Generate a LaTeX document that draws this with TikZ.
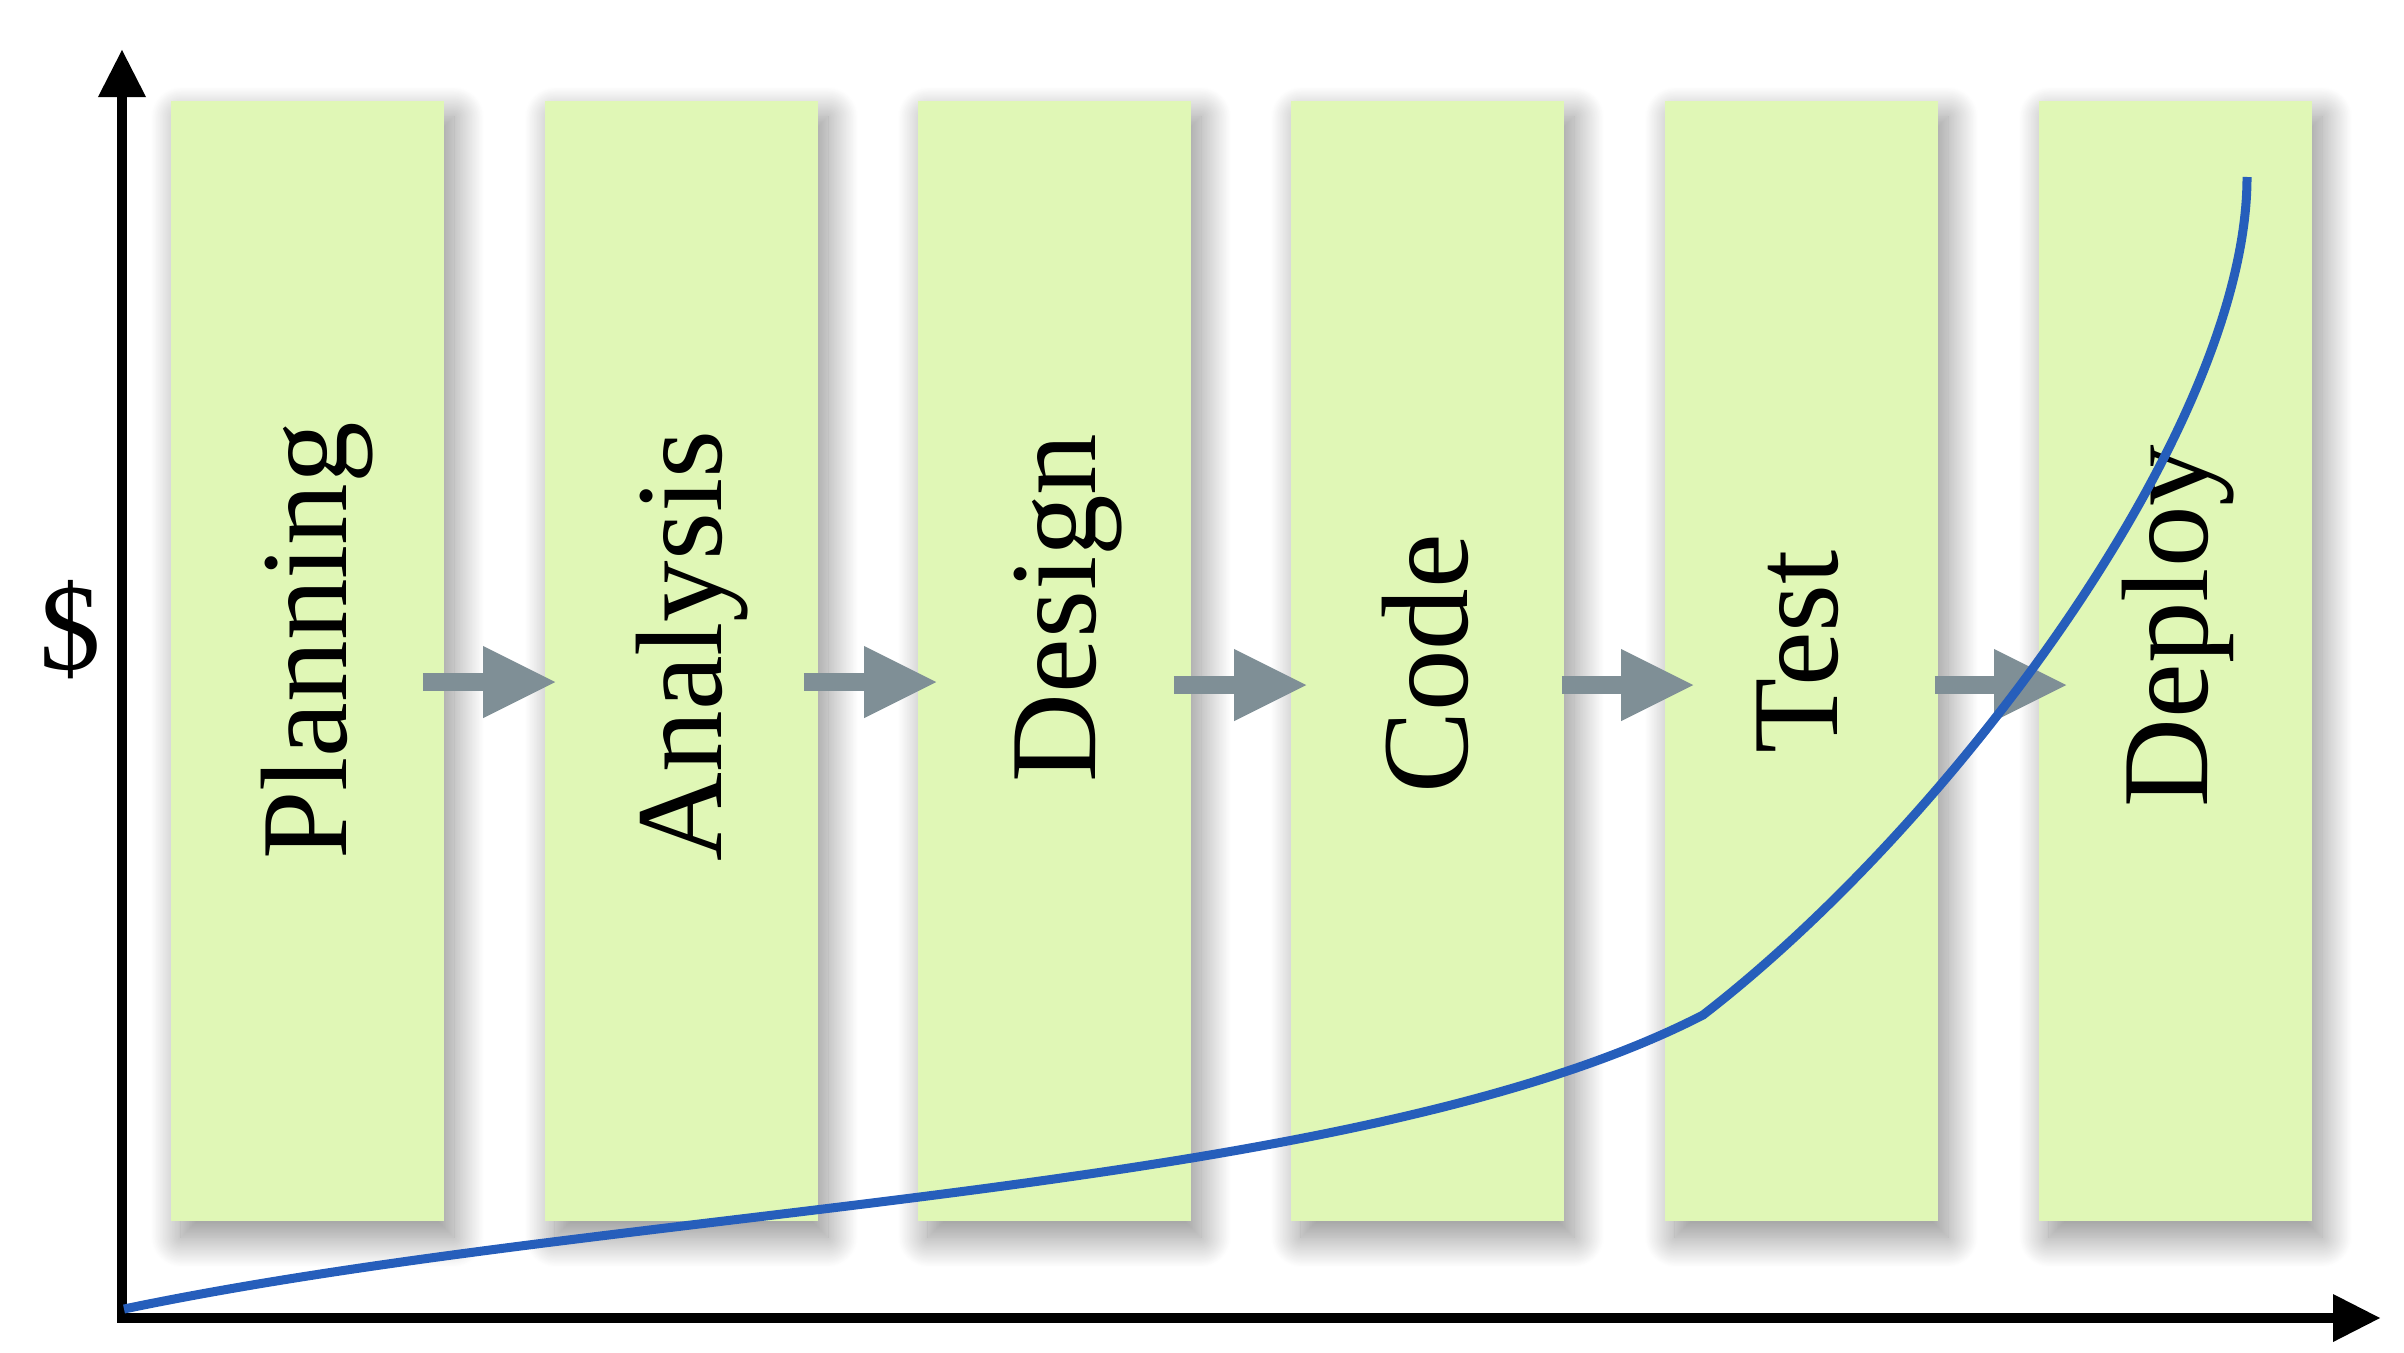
\documentclass[tikz,border=0pt]{standalone}
\usepackage{fontspec}
\setmainfont{Liberation Serif}
\usetikzlibrary{arrows.meta,shadows.blur}

\definecolor{stagegreen}{RGB}{224,247,182}
\definecolor{flowgray}{RGB}{127,143,150}
\definecolor{costblue}{RGB}{38,94,187}

\tikzset{
	stage/.style={fill=stagegreen, inner sep=0pt, minimum width=2.73cm, minimum height=11.2cm,
		blur shadow={shadow xshift=0.1cm, shadow yshift=-0.16cm, shadow blur radius=0.3cm, shadow blur steps=40, shadow opacity=45}},
	phase/.style={rotate=90, anchor=base, inner sep=0pt, font=\fontsize{35}{42}\selectfont},
	flow/.style={draw=flowgray, line width=0.18cm, -{Triangle[length=0.72cm, width=0.72cm, line width=0pt]}},
	axis/.style={line width=0.1cm, {Triangle[length=0.47cm, width=0.48cm, line width=0pt]}-{Triangle[length=0.47cm, width=0.48cm, line width=0pt]}},
	cost/.style={draw=costblue, line width=0.09cm}
}

\begin{document}
\begin{tikzpicture}[x=0.01cm, y=-0.01cm]
			%%%%% START %%%%%
			\useasboundingbox (0, 0) rectangle (2404, 1352);
			
			\node[stage] (planning) at (307.5, 661) {};
			\node[stage] (analysis) at (681.5, 661) {};
			\node[stage] (design) at (1054.5, 661) {};
			\node[stage] (coding) at (1427.5, 661) {};
			\node[stage] (testing) at (1801.5, 661) {};
			\node[stage] (deploy) at (2175.5, 661) {};
			
			\draw[flow] ([shift={(-0.22cm, -0.21cm)}]planning.east) -- ([shift={(0.11cm, -0.21cm)}]analysis.west);
			\draw[flow] ([shift={(-0.15cm, -0.21cm)}]analysis.east) -- ([shift={(0.19cm, -0.21cm)}]design.west);
			\draw[flow] ([shift={(-0.18cm, -0.24cm)}]design.east) -- ([shift={(0.16cm, -0.24cm)}]coding.west);
			\draw[flow] ([shift={(-0.03cm, -0.24cm)}]coding.east) -- ([shift={(0.29cm, -0.24cm)}]testing.west);
			\draw[flow] ([shift={(-0.04cm, -0.24cm)}]testing.east) -- ([shift={(0.28cm, -0.24cm)}]deploy.west);
			
			\node[phase] (planninglbl) at (346, 641) {Planning};
			\node[phase] (analysislbl) at (721, 646) {Analysis};
			\node[phase] (designlbl) at (1095, 608) {Design};
			\node[phase] (codinglbl) at (1467, 664) {Code};
			\node[phase] (testinglbl) at (1837, 652) {Test};
			\node[phase] (deploylbl) at (2207, 626) {Deploy};
			
			\node[font=\fontsize{35}{42}\selectfont, inner sep=0pt] (dollar) at (70, 630) {\$};
			
			\coordinate (origin) at (122, 1318);
			\coordinate (ytop) at (122, 50);
			\coordinate (xend) at (2380, 1318);
			\draw[axis] (ytop) -- (origin) -- (xend);
			
			\draw[cost] (124, 1309) .. controls (624, 1205) and (1353, 1195) .. (1703, 1015)
				.. controls (1953, 822) and (2247, 427) .. (2247, 177);
			%%%%% END %%%%%
\end{tikzpicture}
\end{document}
